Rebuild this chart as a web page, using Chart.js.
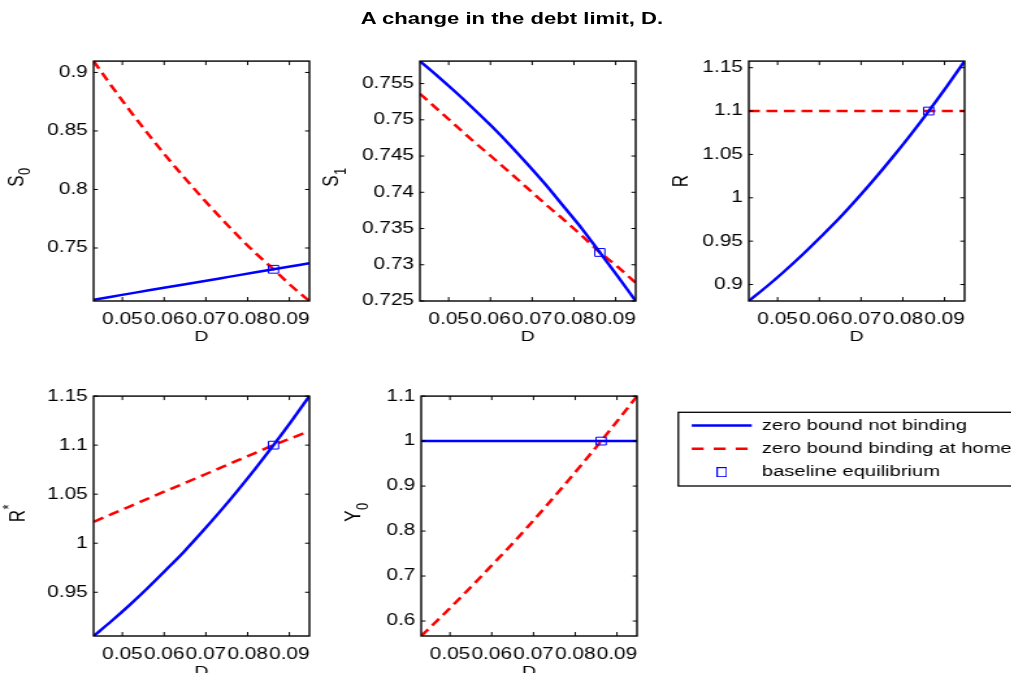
<!DOCTYPE html>
<html><head><meta charset="utf-8">
<script src="https://cdn.jsdelivr.net/npm/chart.js@4.4.1/dist/chart.umd.min.js"></script>
<style>
html,body{margin:0;padding:0;background:#fff;overflow:hidden;width:1011px;height:673px;}
#page{position:absolute;left:0;top:0;width:778px;height:673px;transform:scaleX(1.3);transform-origin:0 0;}
#page canvas{position:absolute;}
#title{position:absolute;left:0;top:9.5px;width:787.6px;text-align:center;font:bold 17px 'Liberation Sans',Arial,sans-serif;line-height:17px;color:#000;white-space:nowrap;}
</style></head><body>
<div id="page">
<div id="title">A change in the debt limit, D.</div>
<canvas id="c1" width="266" height="299" style="left:-8.4px;top:47px;width:266px;height:299px"></canvas>
<canvas id="c2" width="266" height="299" style="left:243.3px;top:47px;width:266px;height:299px"></canvas>
<canvas id="c3" width="266" height="299" style="left:496.2px;top:47px;width:266px;height:299px"></canvas>
<canvas id="c4" width="266" height="299" style="left:-8.2px;top:382px;width:266px;height:299px"></canvas>
<canvas id="c5" width="266" height="299" style="left:243.6px;top:382px;width:266px;height:299px"></canvas>
<canvas id="leg" width="268" height="200" style="left:512px;top:410px;width:268px;height:200px"></canvas>
</div>
<script>
// ---- data ----
const D = [0.0431, 0.0474, 0.0517, 0.0560, 0.0603, 0.0647, 0.0690, 0.0733, 0.0776, 0.0819, 0.0862, 0.0905, 0.0948];
const baseD = [0.0862];

const S0_notBinding = [0.7058, 0.7084, 0.7110, 0.7136, 0.7162, 0.7188, 0.7214, 0.7240, 0.7266, 0.7292, 0.7318, 0.7344, 0.7370];
const S0_binding    = [0.9097, 0.8884, 0.8678, 0.8481, 0.8291, 0.8108, 0.7934, 0.7767, 0.7607, 0.7456, 0.7318, 0.7175, 0.7047];
const S0_base = [0.7318];

const S1_notBinding = [0.7581, 0.7560, 0.7538, 0.7515, 0.7491, 0.7465, 0.7438, 0.7410, 0.7380, 0.7350, 0.7317, 0.7284, 0.7250];
const S1_binding    = [0.7536, 0.7514, 0.7492, 0.7470, 0.7449, 0.7427, 0.7405, 0.7383, 0.7362, 0.7340, 0.7317, 0.7297, 0.7275];
const S1_base = [0.7317];

const R_notBinding = [0.8810, 0.8977, 0.9156, 0.9346, 0.9548, 0.9761, 0.9986, 1.0222, 1.0470, 1.0729, 1.1000, 1.1282, 1.1576];
const R_binding    = [1.1, 1.1, 1.1, 1.1, 1.1, 1.1, 1.1, 1.1, 1.1, 1.1, 1.1, 1.1, 1.1];
const R_base = [1.1];

const Rs_notBinding = [0.9054, 0.9207, 0.9369, 0.9541, 0.9722, 0.9911, 1.0111, 1.0319, 1.0537, 1.0764, 1.1000, 1.1245, 1.1500];
const Rs_binding    = [1.0218, 1.0296, 1.0374, 1.0453, 1.0531, 1.0609, 1.0687, 1.0765, 1.0844, 1.0922, 1.1000, 1.1072, 1.1143];
const Rs_base = [1.1];

const Y0_notBinding = [1, 1, 1, 1, 1, 1, 1, 1, 1, 1, 1, 1, 1];
const Y0_binding    = [0.5667, 0.6050, 0.6445, 0.6850, 0.7267, 0.7695, 0.8133, 0.8584, 0.9045, 0.9517, 1.0000, 1.0494, 1.1000];
const Y0_base = [1.0];

const xTickLabels = ['0.05', '0.06', '0.07', '0.08', '0.09'];
const yTicksS0 = ['0.75', '0.8', '0.85', '0.9'];
const yTicksS1 = ['0.725', '0.73', '0.735', '0.74', '0.745', '0.75', '0.755'];
const yTicksR  = ['0.9', '0.95', '1', '1.05', '1.1', '1.15'];
const yTicksRs = ['0.95', '1', '1.05', '1.1', '1.15'];
const yTicksY0 = ['0.6', '0.7', '0.8', '0.9', '1', '1.1'];

const seriesNames = ['zero bound not binding', 'zero bound binding at home', 'baseline equilibrium'];
// ---------------------------------------

const FONT = "'Liberation Sans', Arial, Helvetica, sans-serif";
Chart.defaults.font.family = FONT;
Chart.defaults.color = '#000';

const BLUE = '#0000ff', RED = '#ff0000';
const YT_SIZE = 17;

const framePlugin = {
  id: 'frame',
  afterDatasetsDraw(chart) {
    const {ctx, chartArea: a, scales: {x, y}} = chart;
    ctx.save();
    ctx.strokeStyle = '#000';
    ctx.lineWidth = 1.4;
    ctx.strokeRect(a.left, a.top, a.right - a.left, a.bottom - a.top);
    ctx.lineWidth = 1;
    ctx.beginPath();
    x.ticks.forEach(t => {
      const px = x.getPixelForValue(t.value);
      ctx.moveTo(px, a.bottom); ctx.lineTo(px, a.bottom - 4);
      ctx.moveTo(px, a.top); ctx.lineTo(px, a.top + 4);
    });
    y.ticks.forEach(t => {
      const py = y.getPixelForValue(t.value);
      ctx.moveTo(a.left, py); ctx.lineTo(a.left + 3.3, py);
      ctx.moveTo(a.right, py); ctx.lineTo(a.right - 3.3, py);
    });
    ctx.stroke();
    ctx.restore();
  }
};

// draws the sub/superscript part of the y-axis title next to the library's title
const scriptPlugin = {
  id: 'script',
  afterDraw(chart, args, opts) {
    if (!opts || !opts.text) return;
    const s = chart.scales.y;
    const t = chart.options.scales.y.title;
    const lh = YT_SIZE * 1.2;
    const cx = s.left + t.padding.top + lh / 2;
    const cy = (s.top + s.bottom) / 2;
    const ctx = chart.ctx;
    ctx.save();
    ctx.translate(cx, cy);
    ctx.rotate(-Math.PI / 2);
    ctx.font = YT_SIZE + 'px ' + FONT;
    const w = ctx.measureText(t.text).width;
    ctx.font = '13px ' + FONT;
    ctx.fillStyle = '#000';
    ctx.textAlign = 'left';
    ctx.textBaseline = 'middle';
    ctx.fillText(opts.text, w / 2 + 0.5, opts.sup ? -7.5 : 6.5);
    ctx.restore();
  }
};

function panel(id, yTitle, script, titlePad, yTickLabels, blue, red, baseY) {
  const all = blue.concat(red);
  new Chart(document.getElementById(id), {
    type: 'line',
    data: {
      datasets: [
        { label: seriesNames[2], data: baseD.map((d, i) => ({x: d, y: baseY[i]})), showLine: false,
          pointStyle: 'rect', pointRadius: 5.5, pointBorderWidth: 1, pointBorderColor: BLUE,
          pointBackgroundColor: 'rgba(0,0,0,0)', borderColor: BLUE, order: 0 },
        { label: seriesNames[0], data: D.map((d, i) => ({x: d, y: blue[i]})), borderColor: BLUE,
          borderWidth: 2.5, pointRadius: 0, cubicInterpolationMode: 'monotone', order: 1 },
        { label: seriesNames[1], data: D.map((d, i) => ({x: d, y: red[i]})), borderColor: RED,
          borderWidth: 2.5, borderDash: [8.5, 5], pointRadius: 0, cubicInterpolationMode: 'monotone', order: 2 }
      ]
    },
    options: {
      responsive: false, animation: false, devicePixelRatio: 1,
      layout: {padding: {left: 0, top: 14, right: 20, bottom: 0}},
      plugins: {legend: {display: false}, tooltip: {enabled: false}, script: script},
      scales: {
        x: {
          type: 'linear', min: D[0], max: D[D.length - 1],
          afterBuildTicks: s => { s.ticks = xTickLabels.map(v => ({value: +v})); },
          afterFit: s => { s.height = 45; },
          grid: {display: false, drawTicks: false}, border: {display: false},
          ticks: {autoSkip: false, maxRotation: 0, minRotation: 0, padding: 8.7, color: '#000',
                  font: {size: 16}, callback: (v, i) => xTickLabels[i]},
          title: {display: true, text: 'D', color: '#000', font: {size: 15}, padding: {top: 0, bottom: 0}}
        },
        y: {
          type: 'linear', min: Math.min(...all), max: Math.max(...all),
          afterBuildTicks: s => { s.ticks = yTickLabels.map(v => ({value: +v})); },
          afterFit: s => { s.width = 80; },
          grid: {display: false, drawTicks: false}, border: {display: false},
          ticks: {autoSkip: false, padding: 4.5, color: '#000', font: {size: 16},
                  callback: (v, i) => yTickLabels[i]},
          title: {display: true, text: yTitle, color: '#000', font: {size: YT_SIZE}, padding: {top: titlePad, bottom: 0}}
        }
      }
    },
    plugins: [framePlugin, scriptPlugin]
  });
}

panel('c1', 'S', {text: '0'}, 11.0, yTicksS0, S0_notBinding, S0_binding, S0_base);
panel('c2', 'S', {text: '1'}, 2.6, yTicksS1, S1_notBinding, S1_binding, S1_base);
panel('c3', 'R', null, 18.6, yTicksR, R_notBinding, R_binding, R_base);
panel('c4', 'R', {text: '*', sup: true}, 12.3, yTicksRs, Rs_notBinding, Rs_binding, Rs_base);
panel('c5', 'Y', {text: '0'}, 18.5, yTicksY0, Y0_notBinding, Y0_binding, Y0_base);

// legend
const sq = document.createElement('canvas');
sq.width = 8; sq.height = 10;
const g = sq.getContext('2d');
g.strokeStyle = BLUE; g.lineWidth = 1; g.strokeRect(0.5, 0.5, 7, 9);

const legendDash = [[], [9.2, 7.7], []];
const legendBox = {
  id: 'legendBox',
  afterDraw(chart) {
    const ctx = chart.ctx;
    ctx.save();
    ctx.strokeStyle = '#000'; ctx.lineWidth = 1.3;
    ctx.strokeRect(9.8, 2.3, 400, 73.7);
    ctx.restore();
  }
};
new Chart(document.getElementById('leg'), {
  type: 'line',
  data: {
    datasets: [
      {label: seriesNames[0], data: [], borderColor: BLUE, borderWidth: 2.5},
      {label: seriesNames[1], data: [], borderColor: RED, borderWidth: 2.5, borderDash: [8.5, 5]},
      {label: seriesNames[2], data: [], borderColor: BLUE, borderWidth: 1}
    ]
  },
  options: {
    responsive: false, animation: false, devicePixelRatio: 1,
    layout: {padding: {left: 12.3, top: 0, right: 0, bottom: 0}},
    scales: {x: {display: false}, y: {display: false}},
    plugins: {
      tooltip: {enabled: false},
      legend: {
        position: 'top', align: 'start',
        labels: {
          usePointStyle: true, pointStyleWidth: 46.2, padding: 7.8, color: '#000',
          font: {size: 15.5},
          generateLabels: chart => chart.data.datasets.map((ds, i) => ({
            text: ds.label, strokeStyle: ds.borderColor, fillStyle: 'rgba(0,0,0,0)',
            lineWidth: ds.borderWidth, lineDash: legendDash[i], lineCap: 'butt',
            pointStyle: i === 2 ? sq : 'line', hidden: false, datasetIndex: i, fontColor: '#000'
          }))
        }
      }
    }
  },
  plugins: [legendBox]
});
</script>
</body></html>
